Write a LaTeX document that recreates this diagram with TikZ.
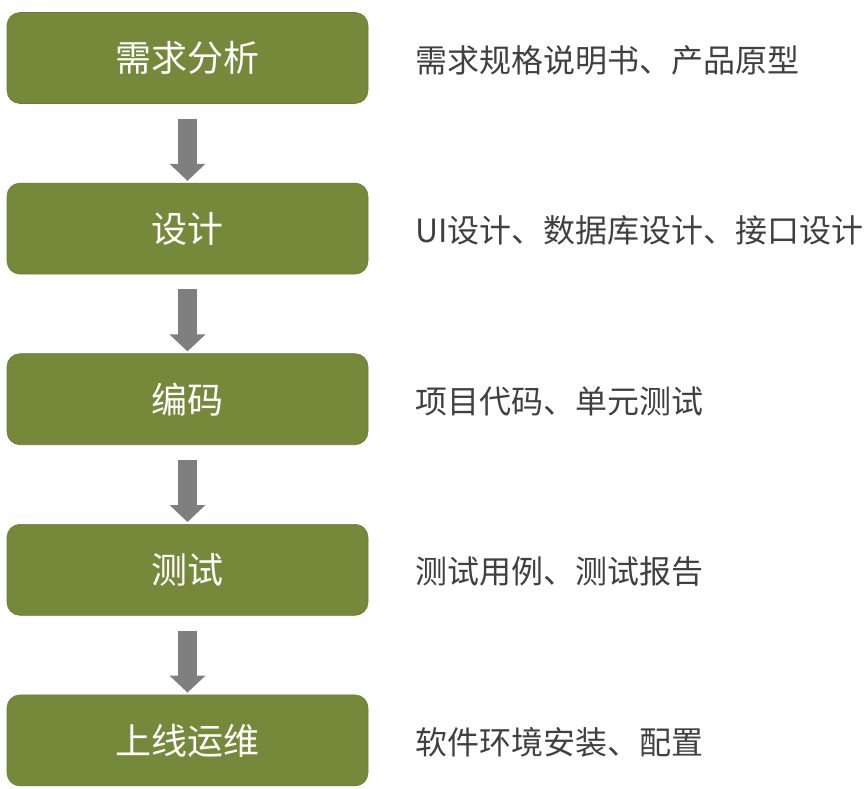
\documentclass[tikz,border=0pt]{standalone}
\usepackage{fontspec}
\setmainfont{Noto Sans CJK SC}
\usetikzlibrary{arrows.meta,positioning}
\definecolor{olivebox}{HTML}{76883A}
\definecolor{arrowgray}{HTML}{7F7F7F}
\definecolor{notegray}{HTML}{404040}
\begin{document}
\begin{tikzpicture}[
  x=1pt, y=-1pt,
  stage/.style={rectangle, rounded corners=13pt, fill=olivebox, draw=olivebox!90!black, line width=0.6pt, minimum width=361pt, minimum height=91pt, text=white, font=\fontsize{36}{40}\selectfont},
  note/.style={inner sep=0pt, text=notegray, font=\fontsize{32}{36}\selectfont},
  flow/.style={-{Triangle[width=35pt,length=17pt]}, line width=19pt, draw=arrowgray, shorten <=15pt, shorten >=2pt},
  node distance=170.6pt
]
\useasboundingbox (0,0) rectangle (868,789);

% Stages
\node[stage] (need) at (187.5,58) {需求分析};
\node[stage, below of=need] (design) {设计};
\node[stage, below of=design] (coding) {编码};
\node[stage, below of=coding] (testing) {测试};
\node[stage, below of=testing] (deploy) {上线运维};

% Deliverables
\node[note, right=47pt of need, yshift=-2pt] (need_doc) {需求规格说明书、产品原型};
\node[note, right=47pt of design, yshift=-2pt] (design_doc) {UI设计、数据库设计、接口设计};
\node[note, right=47pt of coding, yshift=-2pt] (coding_doc) {项目代码、单元测试};
\node[note, right=47pt of testing, yshift=-2pt] (testing_doc) {测试用例、测试报告};
\node[note, right=47pt of deploy, yshift=-2pt] (deploy_doc) {软件环境安装、配置};

% Connections
\draw[flow] (need) -- (design);
\draw[flow] (design) -- (coding);
\draw[flow] (coding) -- (testing);
\draw[flow] (testing) -- (deploy);
\end{tikzpicture}
\end{document}
